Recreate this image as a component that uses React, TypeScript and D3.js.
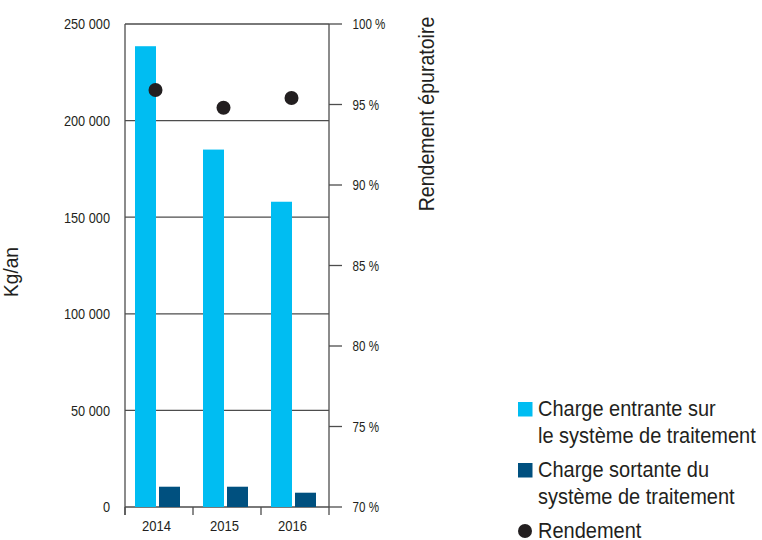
import React from "react";
import * as d3 from "d3";

const years = ["2014", "2015", "2016"];
const chargeEntrante = [238500, 185000, 158000];
const chargeSortante = [10500, 10500, 7400];
const rendement = [95.9, 94.8, 95.4];
const leftTicks = [0, 50000, 100000, 150000, 200000, 250000];
const rightTicks = [70, 75, 80, 85, 90, 95, 100];
const legendLines = [
  ["Charge entrante sur", "le système de traitement"],
  ["Charge sortante du", "système de traitement"],
  ["Rendement"],
];

const W = 762, H = 540;
const L = 125, R = 329, T = 24, B = 507;
const C_IN = "#00BDF2";
const C_OUT = "#00507F";
const C_DOT = "#231F20";
const C_TXT = "#231F20";
const C_LINE = "#4d4d4d";
const FONT = "'Liberation Sans', Arial, sans-serif";
const fmt = (v: number) => d3.format(",")(v).replace(/,/g, " ");

type TProps = {
  x: number; y: number; sx: number; size: number; anchor?: string; rot?: number; children: React.ReactNode;
};
function CText({ x, y, sx, size, anchor = "start", rot = 0, children }: TProps) {
  return (
    <text
      transform={`translate(${x},${y}) rotate(${rot}) scale(${sx},1)`}
      textAnchor={anchor}
      fontSize={size}
      fill={C_TXT}
    >
      {children}
    </text>
  );
}

export default function App() {
  const x = d3.scaleBand<string>().domain(years).range([L, R]).padding(0);
  const yL = d3.scaleLinear().domain([0, 250000]).range([B, T]);
  const yR = d3.scaleLinear().domain([70, 100]).range([B, T]);
  const bw = 21;
  const off1 = 10, off2 = 34;

  return (
    <svg width={W} height={H} style={{ position: "absolute", left: 0, top: 0, fontFamily: FONT }}>
      <rect width={W} height={H} fill="#fff" />
      {leftTicks.map((t) => (
        <line key={t} x1={L} x2={R} y1={yL(t)} y2={yL(t)} stroke={C_LINE} strokeWidth={1.3} />
      ))}
      {years.map((yr, i) => (
        <g key={yr}>
          <rect x={x(yr)! + off1} y={yL(chargeEntrante[i])} width={bw} height={B - yL(chargeEntrante[i])} fill={C_IN} />
          <rect x={x(yr)! + off2} y={yL(chargeSortante[i])} width={bw} height={B - yL(chargeSortante[i])} fill={C_OUT} />
        </g>
      ))}
      <line x1={L} x2={L} y1={T} y2={B + 8} stroke={C_LINE} strokeWidth={1.3} />
      <line x1={R} x2={R} y1={T} y2={B + 8} stroke={C_LINE} strokeWidth={1.3} />
      {leftTicks.map((t) => (
        <CText key={t} x={110} y={yL(t) + 5.3} sx={0.85} size={15} anchor="end">
          {fmt(t)}
        </CText>
      ))}
      {rightTicks.map((t) => (
        <g key={t}>
          <line x1={R} x2={R + 13} y1={yR(t)} y2={yR(t)} stroke={C_LINE} strokeWidth={1.3} />
          <CText x={352.5} y={yR(t) + 5} sx={0.83} size={14}>
            {`${t} %`}
          </CText>
        </g>
      ))}
      {years.map((yr) => (
        <line key={yr} x1={x(yr)!} x2={x(yr)!} y1={B} y2={B + 8} stroke={C_LINE} strokeWidth={1.3} />
      ))}
      {years.map((yr) => (
        <CText key={yr} x={x(yr)! + 31.5} y={531} sx={0.87} size={15} anchor="middle">
          {yr}
        </CText>
      ))}
      {years.map((yr, i) => (
        <circle key={yr} cx={x(yr)! + x.bandwidth() / 2 - 3.5} cy={yR(rendement[i])} r={7} fill={C_DOT} />
      ))}
      <CText x={18} y={272} rot={-90} sx={0.91} size={21} anchor="middle">
        Kg/an
      </CText>
      <CText x={434} y={114} rot={-90} sx={0.89} size={22} anchor="middle">
        Rendement épuratoire
      </CText>
      <g>
        <rect x={518} y={402} width={14.5} height={14.5} fill={C_IN} />
        <CText x={538} y={416} sx={0.93} size={21.5}>{legendLines[0][0]}</CText>
        <CText x={538} y={443} sx={0.93} size={21.5}>{legendLines[0][1]}</CText>
        <rect x={518} y={463} width={14.5} height={14.5} fill={C_OUT} />
        <CText x={538} y={477} sx={0.93} size={21.5}>{legendLines[1][0]}</CText>
        <CText x={538} y={503.5} sx={0.93} size={21.5}>{legendLines[1][1]}</CText>
        <circle cx={525} cy={531} r={7} fill={C_DOT} />
        <CText x={538} y={538} sx={0.93} size={21.5}>{legendLines[2][0]}</CText>
      </g>
    </svg>
  );
}
